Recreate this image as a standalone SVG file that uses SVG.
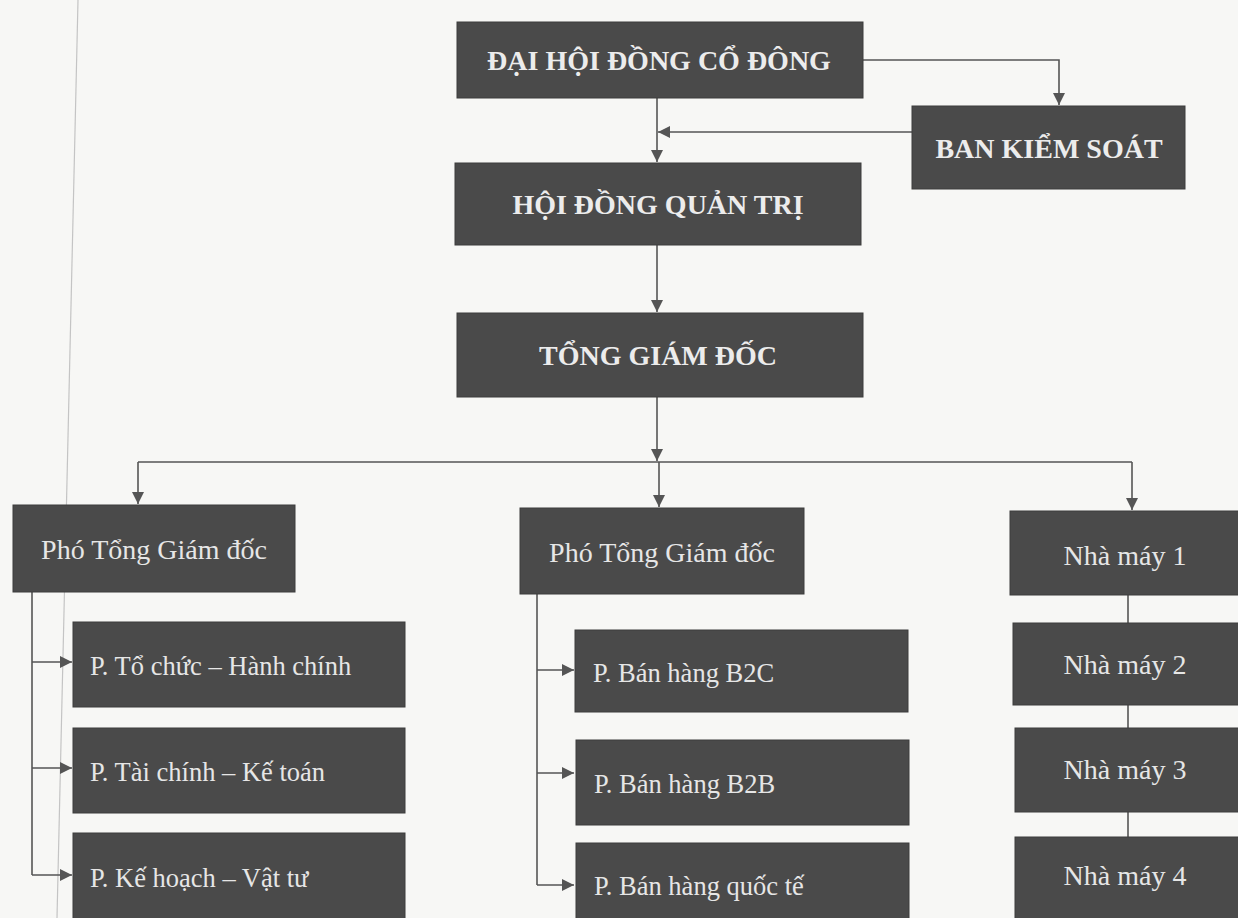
<svg xmlns="http://www.w3.org/2000/svg" width="1238" height="918" viewBox="0 0 1238 918">
<style>
.bg{fill:#f7f7f5}
.box{fill:#4a4a4a;stroke:#3c3c3c;stroke-width:1}
.t1{font-family:"Liberation Serif","Times New Roman",serif;font-weight:bold;font-size:28px;fill:#ececec;text-anchor:middle}
.t2{font-family:"Liberation Serif","Times New Roman",serif;font-size:28px;fill:#e6e6e6;text-anchor:middle}
.t3{font-family:"Liberation Serif","Times New Roman",serif;font-size:26.5px;fill:#e6e6e6}
.ln{fill:none;stroke:#555;stroke-width:1.6}
</style>
<defs>
<marker id="ah" viewBox="0 0 10 10" refX="10" refY="5" markerWidth="12" markerHeight="12" markerUnits="userSpaceOnUse" orient="auto">
<path d="M0,0 L10,5 L0,10 z" fill="#555"/>
</marker>
</defs>
<rect class="bg" x="0" y="0" width="1238" height="918"/>
<line x1="78" y1="0" x2="57" y2="918" stroke="#c4c4c4" stroke-width="1.2"/>

<g id="connectors">
<path class="ln" d="M863,60 H1059 V105" marker-end="url(#ah)"/>
<path class="ln" d="M657,98 V162" marker-end="url(#ah)"/>
<path class="ln" d="M912,132 H658" marker-end="url(#ah)"/>
<path class="ln" d="M657,245 V312" marker-end="url(#ah)"/>
<path class="ln" d="M657,397 V461" marker-end="url(#ah)"/>
<path class="ln" d="M138,462 H1132"/>
<path class="ln" d="M138,462 V504" marker-end="url(#ah)"/>
<path class="ln" d="M659,462 V507" marker-end="url(#ah)"/>
<path class="ln" d="M1132,462 V510" marker-end="url(#ah)"/>
<path class="ln" d="M32,592 V875"/>
<path class="ln" d="M32,662 H72" marker-end="url(#ah)"/>
<path class="ln" d="M32,768 H72" marker-end="url(#ah)"/>
<path class="ln" d="M32,875 H72" marker-end="url(#ah)"/>
<path class="ln" d="M537,594 V885"/>
<path class="ln" d="M537,670 H574" marker-end="url(#ah)"/>
<path class="ln" d="M537,773 H574" marker-end="url(#ah)"/>
<path class="ln" d="M537,885 H574" marker-end="url(#ah)"/>
<path class="ln" d="M1128,595 V623"/>
<path class="ln" d="M1128,705 V728"/>
<path class="ln" d="M1128,812 V837"/>
</g>

<g id="dhdcd"><rect class="box" x="457" y="22" width="406" height="76"/><text class="t1" x="659" y="70">ĐẠI HỘI ĐỒNG CỔ ĐÔNG</text></g>
<g id="bks"><rect class="box" x="912" y="106" width="273" height="83"/><text class="t1" x="1049" y="158">BAN KIỂM SOÁT</text></g>
<g id="hdqt"><rect class="box" x="455" y="163" width="406" height="82"/><text class="t1" x="658" y="214">HỘI ĐỒNG QUẢN TRỊ</text></g>
<g id="tgd"><rect class="box" x="457" y="313" width="406" height="84"/><text class="t1" x="658" y="365">TỔNG GIÁM ĐỐC</text></g>

<g id="ptgd1"><rect class="box" x="13" y="505" width="282" height="87"/><text class="t2" x="154" y="559">Phó Tổng Giám đốc</text></g>
<g id="ptgd2"><rect class="box" x="520" y="508" width="284" height="86"/><text class="t2" x="662" y="562">Phó Tổng Giám đốc</text></g>

<g id="tchc"><rect class="box" x="73" y="622" width="332" height="85"/><text class="t3" x="90" y="675">P. Tổ chức – Hành chính</text></g>
<g id="tckt"><rect class="box" x="73" y="728" width="332" height="85"/><text class="t3" x="90" y="781">P. Tài chính – Kế toán</text></g>
<g id="khvt"><rect class="box" x="73" y="833" width="332" height="90"/><text class="t3" x="90" y="887">P. Kế hoạch – Vật tư</text></g>

<g id="b2c"><rect class="box" x="575" y="630" width="333" height="82"/><text class="t3" x="593" y="682">P. Bán hàng B2C</text></g>
<g id="b2b"><rect class="box" x="576" y="740" width="333" height="85"/><text class="t3" x="594" y="793">P. Bán hàng B2B</text></g>
<g id="qt"><rect class="box" x="576" y="843" width="333" height="80"/><text class="t3" x="594" y="895">P. Bán hàng quốc tế</text></g>

<g id="nm1"><rect class="box" x="1010" y="511" width="235" height="84"/><text class="t2" x="1125" y="565">Nhà máy 1</text></g>
<g id="nm2"><rect class="box" x="1013" y="623" width="232" height="82"/><text class="t2" x="1125" y="674">Nhà máy 2</text></g>
<g id="nm3"><rect class="box" x="1015" y="728" width="230" height="84"/><text class="t2" x="1125" y="779">Nhà máy 3</text></g>
<g id="nm4"><rect class="box" x="1015" y="837" width="230" height="86"/><text class="t2" x="1125" y="885">Nhà máy 4</text></g>
</svg>
